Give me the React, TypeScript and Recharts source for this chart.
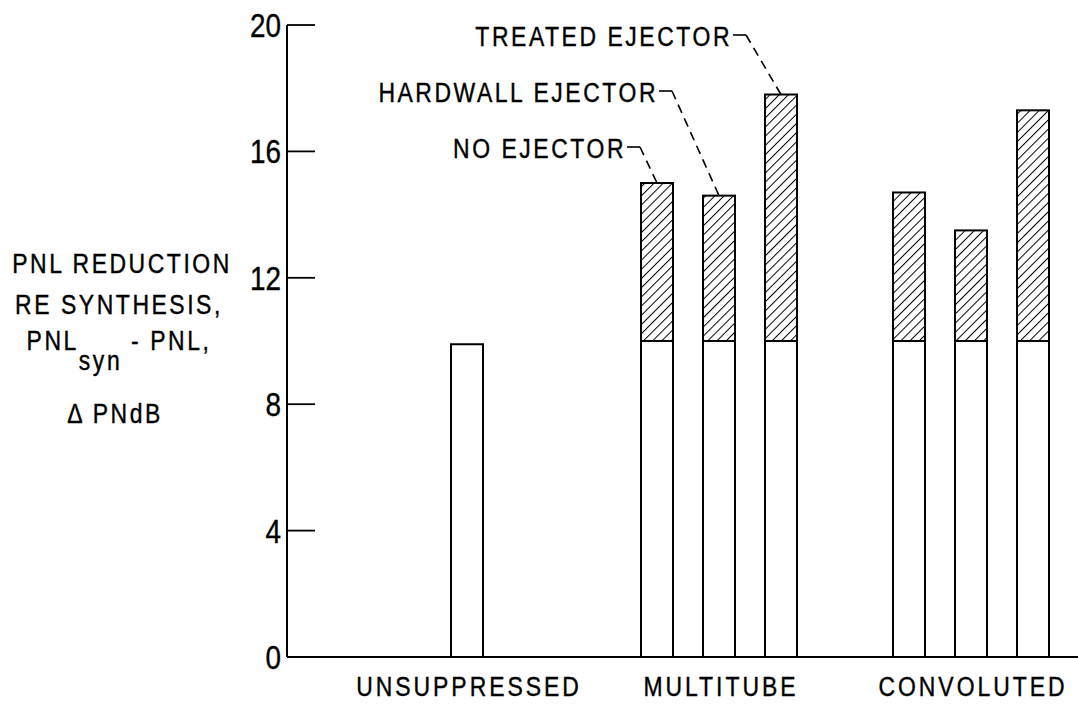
import { BarChart, Bar, XAxis, YAxis } from 'recharts';

const categories = ['UNSUPPRESSED', 'MULTITUBE', 'CONVOLUTED'];
const ejectors = ['NO EJECTOR', 'HARDWALL EJECTOR', 'TREATED EJECTOR'];

// white part = reduction without the ejector effect, total = top of the hatched part.
// the unsuppressed nozzle has one bar only, it sits in the middle slot
const noEjectorBase = [null, 10.0, 10.0];
const noEjectorTotal = [null, 15.0, 14.7];
const hardwallBase = [9.9, 10.0, 10.0];
const hardwallTotal = [9.9, 14.6, 13.5];
const treatedBase = [null, 10.0, 10.0];
const treatedTotal = [null, 17.8, 17.3];

const yTicks = [0, 4, 8, 12, 16, 20];

const FONT = '"Liberation Sans", Arial, sans-serif';
const ink = { fill: '#000', stroke: '#000', strokeWidth: 0.4 };

const added = (base: number | null, total: number | null) =>
  base == null || total == null || total <= base ? null : +(total - base).toFixed(2);

const data = categories.map((name, i) => ({
  name,
  noBase: noEjectorBase[i],
  noAdd: added(noEjectorBase[i], noEjectorTotal[i]),
  hwBase: hardwallBase[i],
  hwAdd: added(hardwallBase[i], hardwallTotal[i]),
  trBase: treatedBase[i],
  trAdd: added(treatedBase[i], treatedTotal[i]),
}));

// leader label placement for the three ejector notes (drawn on the multitube group)
const notes = [
  { gap: 34, baseline: 158 },
  { gap: 64, baseline: 102 },
  { gap: 52, baseline: 46 },
];

// lettering of the original is tall and narrow, squeeze a normal sans a bit
function Narrow({ x, y, anchor = 'start', size = 27, spacing = 3, children }: any) {
  return (
    <text
      transform={`translate(${x},${y}) scale(0.85,1)`}
      textAnchor={anchor}
      fontFamily={FONT}
      fontSize={size}
      letterSpacing={spacing}
      style={{ whiteSpace: 'pre' }}
      {...ink}
    >
      {children}
    </text>
  );
}

function HatchBar(props: any) {
  const { x, y, width, height, payload, index, note, text } = props;
  if (width == null || height == null) return null;
  const top = height < 0 ? y + height : y;
  const h = Math.abs(height);
  const showNote = (payload && payload.name === categories[1]) || index === 1;
  const cx = x + width / 2;
  const textEnd = cx - note.gap;
  const hookY = note.baseline - 11;
  return (
    <g>
      <rect x={x} y={top} width={width} height={h} fill="url(#hatch)" stroke="#000" strokeWidth={2} />
      {showNote && (
        <g>
          <Narrow x={textEnd + 3} y={note.baseline} anchor="end">
            {text}
          </Narrow>
          <line x1={textEnd + 4} y1={hookY} x2={textEnd + 17} y2={hookY} stroke="#000" strokeWidth={1.6} />
          <line
            x1={textEnd + 17}
            y1={hookY}
            x2={cx}
            y2={top}
            stroke="#000"
            strokeWidth={1.6}
            strokeDasharray="9 6"
          />
        </g>
      )}
    </g>
  );
}

function YTick(props: any) {
  const { x, y, payload } = props;
  return (
    <g>
      <line x1={x} x2={x + 28} y1={y} y2={y} stroke="#000" strokeWidth={1.8} />
      <text
        transform={`translate(${x - 6},${y + 12}) scale(0.82,1)`}
        textAnchor="end"
        fontFamily={FONT}
        fontSize={34}
        {...ink}
      >
        {payload.value}
      </text>
    </g>
  );
}

function XTick(props: any) {
  const { x, y, payload } = props;
  return (
    <Narrow x={x + 2} y={y + 39} anchor="middle" spacing={3.5}>
      {payload.value}
    </Narrow>
  );
}

function YTitle() {
  return (
    <g>
      <Narrow x={122} y={273} anchor="middle">PNL REDUCTION</Narrow>
      <Narrow x={119} y={314} anchor="middle">RE SYNTHESIS,</Narrow>
      <Narrow x={119} y={350} anchor="middle">
        PNL<tspan dy={20}>syn</tspan>
        <tspan dy={-20}> - PNL,</tspan>
      </Narrow>
      <Narrow x={115} y={423} anchor="middle">Δ PNdB</Narrow>
    </g>
  );
}

export default function App() {
  return (
    <div
      style={{
        position: 'absolute',
        top: 0,
        left: 0,
        width: 1078,
        height: 706,
        overflow: 'hidden',
        background: '#fff',
      }}
    >
      <BarChart
        width={1097}
        height={706}
        data={data}
        margin={{ top: 25, right: 0, bottom: 0, left: 0 }}
        barSize={32}
        barGap={30}
      >
        <defs>
          <pattern id="hatch" width="6.5" height="6.5" patternUnits="userSpaceOnUse" patternTransform="rotate(45)">
            <rect width="6.5" height="6.5" fill="#fff" />
            <line x1="0" y1="0" x2="0" y2="6.5" stroke="#000" strokeWidth="2" />
          </pattern>
        </defs>
        <XAxis
          dataKey="name"
          height={49}
          interval={0}
          tickSize={0}
          tickMargin={0}
          tickLine={false}
          tick={<XTick />}
          axisLine={{ stroke: '#000', strokeWidth: 2 }}
          padding={{ left: 54, right: 0 }}
        />
        <YAxis
          type="number"
          width={287}
          domain={[0, 20]}
          ticks={yTicks}
          interval={0}
          tickSize={0}
          tickMargin={0}
          tickLine={false}
          tick={<YTick />}
          axisLine={{ stroke: '#000', strokeWidth: 2 }}
          label={<YTitle />}
        />
        <Bar dataKey="noBase" stackId="no" fill="#fff" stroke="#000" strokeWidth={2} isAnimationActive={false} />
        <Bar
          dataKey="noAdd"
          stackId="no"
          isAnimationActive={false}
          shape={(p: any) => <HatchBar {...p} note={notes[0]} text={ejectors[0]} />}
        />
        <Bar dataKey="hwBase" stackId="hw" fill="#fff" stroke="#000" strokeWidth={2} isAnimationActive={false} />
        <Bar
          dataKey="hwAdd"
          stackId="hw"
          isAnimationActive={false}
          shape={(p: any) => <HatchBar {...p} note={notes[1]} text={ejectors[1]} />}
        />
        <Bar dataKey="trBase" stackId="tr" fill="#fff" stroke="#000" strokeWidth={2} isAnimationActive={false} />
        <Bar
          dataKey="trAdd"
          stackId="tr"
          isAnimationActive={false}
          shape={(p: any) => <HatchBar {...p} note={notes[2]} text={ejectors[2]} />}
        />
      </BarChart>
    </div>
  );
}
